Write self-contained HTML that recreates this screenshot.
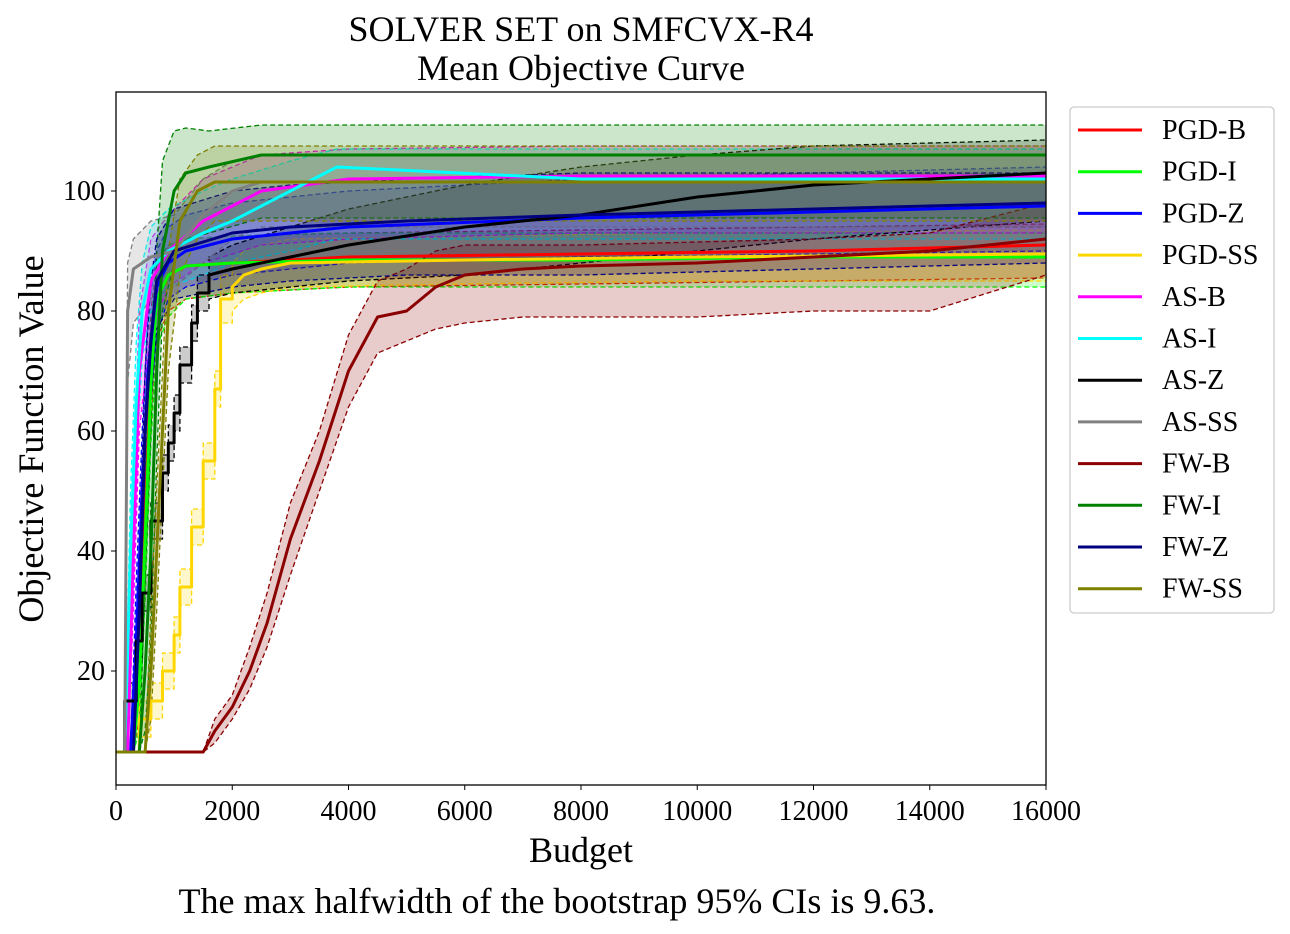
<!DOCTYPE html>
<html><head><meta charset="utf-8"><style>
html,body{margin:0;padding:0;background:#fff;}
svg{display:block;font-family:"Liberation Serif",serif;}
</style></head><body>
<svg id="chart" width="1290" height="934" viewBox="0 0 1290 934">
<text x="581" y="41" font-size="36" text-anchor="middle">SOLVER SET on SMFCVX-R4</text>
<text x="581" y="80" font-size="36" text-anchor="middle">Mean Objective Curve</text>
<g id="bands"></g>
<g id="lines"></g>
<rect x="116" y="92" width="930" height="693" fill="none" stroke="#000" stroke-width="1.3"/>
<g id="xticks"></g>
<g id="yticks"></g>
<text x="581" y="862" font-size="36" text-anchor="middle">Budget</text>
<text transform="translate(43,439) rotate(-90)" font-size="36" text-anchor="middle">Objective Function Value</text>
<text x="557" y="913" font-size="36" text-anchor="middle">The max halfwidth of the bootstrap 95% CIs is 9.63.</text>
<g id="legend">
<rect x="1070" y="107" width="204" height="506" rx="4" fill="#fff" stroke="#ccc" stroke-width="1.3"/>
</g>
</svg>
<script>
const xTicks=[0,2000,4000,6000,8000,10000,12000,14000,16000];
const yTicks=[20,40,60,80,100];
const names=["PGD-B","PGD-I","PGD-Z","PGD-SS","AS-B","AS-I","AS-Z","AS-SS","FW-B","FW-I","FW-Z","FW-SS"];
const colors=["#ff0000","#00ff00","#0000ff","#ffd700","#ff00ff","#00ffff","#000000","#808080","#8b0000","#008000","#000080","#808000"];
const pgdB_x=[0,300,400,500,600,700,900,1200,2000,4000,8000,12000,16000];
const pgdB_y=[6.5,6.5,20,45,70,82,86,87.5,88,89,89.5,90,91];
const pgdB_lo=[6.5,6.5,12,35,60,75,80,82,83,84,84.5,85,85.5];
const pgdB_hi=[6.5,6.5,28,55,80,88,91,92,92.5,93,93.5,94,94.5];
const pgdI_x=[0,300,400,500,600,700,900,1200,2000,4000,8000,12000,16000];
const pgdI_y=[6.5,6.5,18,42,68,82,86,87.5,88,88.5,88.5,89,89];
const pgdI_lo=[6.5,6.5,10,32,58,74,79,82,83,84,84,84,84];
const pgdI_hi=[6.5,6.5,26,52,78,88,91,92,92.5,93,93,93,93];
const pgdZ_x=[0,250,350,450,550,700,900,1200,2000,4000,8000,12000,16000];
const pgdZ_y=[6.5,6.5,25,50,70,84,88,90,92,94,95.5,96.5,97.5];
const pgdZ_lo=[6.5,6.5,15,40,60,76,82,84,86,88,89,89.5,90];
const pgdZ_hi=[6.5,6.5,35,60,80,90,94,96,98,100,102,103,104];
const pgdSS_x=[0,400,400,600,600,800,800,1000,1000,1100,1100,1300,1300,1500,1500,1700,1700,1800,1800,2000,2000,2200,2500,3000,6000,10000,16000];
const pgdSS_y=[6.5,6.5,12,12,15,15,20,20,26,26,34,34,44,44,55,55,67,67,82,82,84,86,87,88,88.5,89,89.5];
const pgdSS_lo=[6.5,6.5,9,9,12,12,17,17,23,23,31,31,41,41,52,52,64,64,78,78,80,82,83,84,84.5,85,85];
const pgdSS_hi=[6.5,6.5,15,15,18,18,23,23,29,29,37,37,47,47,58,58,70,70,86,86,88,90,91,92,92.5,93,93.5];
const asB_x=[0,200,300,400,600,900,1500,2500,4000,8000,16000];
const asB_y=[6.5,6.5,40,70,85,90,95,100,102,102.5,102.5];
const asB_lo=[6.5,6.5,30,60,77,84,88,91,92,93,93];
const asB_hi=[6.5,6.5,50,80,92,96,102,106,107,107.5,107.5];
const asI_x=[0,150,250,350,450,600,900,1500,2000,3000,3800,8000,16000];
const asI_y=[6.5,6.5,40,65,80,87,90,93,95,100,104,102,102];
const asI_lo=[6.5,6.5,30,55,72,80,84,86,88,90,92,92,92];
const asI_hi=[6.5,6.5,50,75,88,94,97,100,102,105,107,107,107];
const asZ_x=[0,150,150,350,350,450,450,600,600,800,800,900,900,1000,1000,1100,1100,1300,1300,1400,1400,1600,1600,2000,3000,4000,6000,8000,10000,12000,16000];
const asZ_y=[6.5,6.5,15,15,25,25,33,33,45,45,53,53,58,58,63,63,71,71,78,78,83,83,86,87,89,91,94,96,99,101,103];
const asZ_lo=[6.5,6.5,12,12,22,22,30,30,42,42,50,50,55,55,60,60,68,68,75,75,80,80,82,83,84,85,86,88,90,92,95];
const asZ_hi=[6.5,6.5,18,18,28,28,36,36,48,48,56,56,61,61,66,66,74,74,81,81,86,86,89,91,94,97,101,104,106,107.5,108.5];
const asSS_x=[0,150,200,300,600,1000,1500,2000,2500,16000];
const asSS_y=[6.5,6.5,80,87,89,90,96,100,101.5,101.5];
const asSS_lo=[6.5,6.5,68,78,82,84,88,92,94,94];
const asSS_hi=[6.5,6.5,88,92,95,96,102,105,106,106];
const fwB_x=[0,1500,1700,2000,2300,2600,3000,3500,4000,4500,5000,5500,6000,7000,8000,10000,12000,14000,16000];
const fwB_y=[6.5,6.5,10,14,20,28,42,55,70,79,80,84,86,87,87.5,88,89,90,92];
const fwB_lo=[6.5,6.5,8,12,17,24,36,50,64,73,75,77,78,79,79,79,80,80,86];
const fwB_hi=[6.5,6.5,12,16,24,33,48,60,76,85,87,90,91,91,91,91.5,92,93,98];
const fwI_x=[0,400,500,600,700,800,1000,1200,1600,2500,16000];
const fwI_y=[6.5,6.5,20,40,70,90,100,103,104,106,106];
const fwI_lo=[6.5,6.5,10,25,55,80,88,92,93,95.5,95.5];
const fwI_hi=[6.5,6.5,35,60,90,105,110,110.5,110,111,111];
const fwZ_x=[0,300,400,500,600,700,1000,2000,3000,5000,8000,12000,16000];
const fwZ_y=[6.5,6.5,30,60,75,85,90,93,94,95,96,97,98];
const fwZ_lo=[6.5,6.5,20,48,65,77,82,84,85,86,86,87,88];
const fwZ_hi=[6.5,6.5,40,70,85,92,97,100,101,102,103,103,103];
const fwSS_x=[0,500,600,700,800,900,1100,1400,1700,16000];
const fwSS_y=[6.5,6.5,20,40,60,80,95,100,101.5,101.5];
const fwSS_lo=[6.5,6.5,12,30,50,70,86,92,95,95];
const fwSS_hi=[6.5,6.5,30,50,70,90,102,106,107.5,107.5];
const series=[
 [pgdB_x,pgdB_y,pgdB_lo,pgdB_hi],[pgdI_x,pgdI_y,pgdI_lo,pgdI_hi],[pgdZ_x,pgdZ_y,pgdZ_lo,pgdZ_hi],[pgdSS_x,pgdSS_y,pgdSS_lo,pgdSS_hi],
 [asB_x,asB_y,asB_lo,asB_hi],[asI_x,asI_y,asI_lo,asI_hi],[asZ_x,asZ_y,asZ_lo,asZ_hi],[asSS_x,asSS_y,asSS_lo,asSS_hi],
 [fwB_x,fwB_y,fwB_lo,fwB_hi],[fwI_x,fwI_y,fwI_lo,fwI_hi],[fwZ_x,fwZ_y,fwZ_lo,fwZ_hi],[fwSS_x,fwSS_y,fwSS_lo,fwSS_hi]];
const NS="http://www.w3.org/2000/svg";
function sx(v){return 116+v*930/16000;}
function sy(v){return 791-v*6;}
function mk(t,a,p){const e=document.createElementNS(NS,t);for(const k in a)e.setAttribute(k,a[k]);p.appendChild(e);return e;}
function pts(xs,ys){return xs.map((x,i)=>[sx(x),sy(ys[i])]);}
function d(p){return "M"+p.map(q=>q[0].toFixed(1)+","+q[1].toFixed(1)).join("L");}
const bands=document.getElementById('bands'),lines=document.getElementById('lines');
series.forEach((s,i)=>{
 const lo=pts(s[0],s[2]),hi=pts(s[0],s[3]);
 const f=mk('path',{d:d(lo.concat(hi.slice().reverse()))+"Z",fill:colors[i],'fill-opacity':0.2,stroke:'none'},bands);
 
 
 [lo,hi].forEach((p,j)=>{const e=mk('path',{d:d(p),fill:'none',stroke:colors[i],'stroke-width':1.3,'stroke-dasharray':'5,3'},bands);
  
  });
});
series.forEach((s,i)=>{
 const e=mk('path',{d:d(pts(s[0],s[1])),fill:'none',stroke:colors[i],'stroke-width':3,'stroke-linejoin':'round'},lines);
 
 
});
const xt=document.getElementById('xticks');
xTicks.forEach(v=>{const l=mk('line',{x1:sx(v),x2:sx(v),y1:785,y2:790,stroke:'#000'},xt);
 
 const t=mk('text',{x:sx(v),y:820,'font-size':28,'text-anchor':'middle'},xt);t.textContent=v;
 });
const yt=document.getElementById('yticks');
yTicks.forEach(v=>{const l=mk('line',{x1:111,x2:116,y1:sy(v),y2:sy(v),stroke:'#000'},yt);
 
 const t=mk('text',{x:105,y:sy(v)+9,'font-size':28,'text-anchor':'end'},yt);t.textContent=v;
 });
const lg=document.getElementById('legend');
names.forEach((n,i)=>{const y=130+i*41.7;
 const g=mk('g',{},lg);
 mk('line',{x1:1078,x2:1142,y1:y,y2:y,stroke:colors[i],'stroke-width':3},g);
 const t=mk('text',{x:1162,y:y+9,'font-size':28},g);t.textContent=n;});
</script>
</body></html>
